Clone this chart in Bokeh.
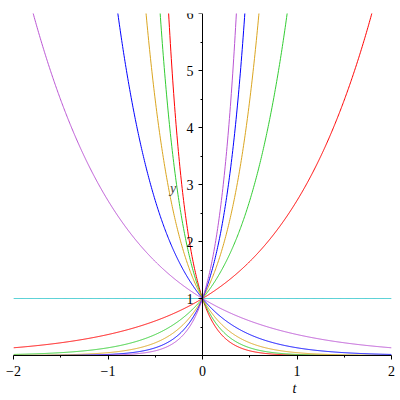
import numpy as np
from bokeh.plotting import figure
from bokeh.models import Range1d, LinearAxis, FixedTicker, Label, Title
from bokeh.embed import file_html
from bokeh.resources import INLINE

# exponential rates k for y = exp(k t), drawn in this order
rates = [-5, -4, -3, -2, -1, 0, 1, 2, 3, 4, 5]
colors = ["#FF0000", "#33CC33", "#DAA520", "#0000FF", "#BA55D3", "#20C0C8",
          "#FF0000", "#33CC33", "#DAA520", "#0000FF", "#BA55D3"]
t_range = [-2, 2]
y_range = [0, 6]
x_ticks = [-2, -1, 0, 1, 2]
x_tick_labels = ["\u22122", "\u22121", "0", "1", "2"]
x_minor = [-1.5, -0.5, 0.5, 1.5]
y_ticks = [1, 2, 3, 4, 5, 6]
y_tick_labels = ["1", "2", "3", "4", "5", "6"]
y_minor = [0.5, 1.5, 2.5, 3.5, 4.5, 5.5]

FONT = "Liberation Serif"

p = figure(width=400, height=400, output_backend="svg", toolbar_location=None,
           x_range=Range1d(*t_range), y_range=Range1d(*y_range),
           x_axis_location=None, y_axis_location=None,
           min_border_left=13, min_border_right=9, min_border_top=13, min_border_bottom=45)
p.outline_line_color = None
p.xgrid.visible = False
p.ygrid.visible = False
p.background_fill_color = "white"
p.border_fill_color = "white"

t = np.linspace(t_range[0], t_range[1], 801)
for k, c in zip(rates, colors):
    p.line(t, np.exp(k * t), line_color=c, line_width=1)

xaxis = LinearAxis(ticker=FixedTicker(ticks=x_ticks, minor_ticks=x_minor))
xaxis.major_label_overrides = {v: s for v, s in zip(x_ticks, x_tick_labels)}
yaxis = LinearAxis(ticker=FixedTicker(ticks=y_ticks, minor_ticks=y_minor), fixed_location=0)
yaxis.major_label_overrides = {v: s for v, s in zip(y_ticks, y_tick_labels)}
for ax in (xaxis, yaxis):
    ax.axis_line_color = "black"
    ax.major_tick_line_color = "black"
    ax.minor_tick_line_color = "black"
    ax.major_tick_in = 0
    ax.major_tick_out = 4
    ax.minor_tick_in = 0
    ax.minor_tick_out = 2
    ax.major_label_text_font = FONT
    ax.major_label_text_font_size = "14px"
    ax.major_label_text_color = "black"
xaxis.major_label_standoff = 6
yaxis.major_label_standoff = 5
p.add_layout(xaxis, "below")
p.add_layout(yaxis, "left")

p.add_layout(Title(text="t", align="left", offset=279, standoff=1, text_font=FONT,
                   text_font_style="italic", text_font_size="14px",
                   text_color="black"), "below")
p.add_layout(Label(x=-0.31, y=2.93, text="y", text_font=FONT, text_font_style="italic",
                   text_font_size="14px", text_align="center", text_baseline="middle"))

open("out.html", "w").write(file_html(p, INLINE))
